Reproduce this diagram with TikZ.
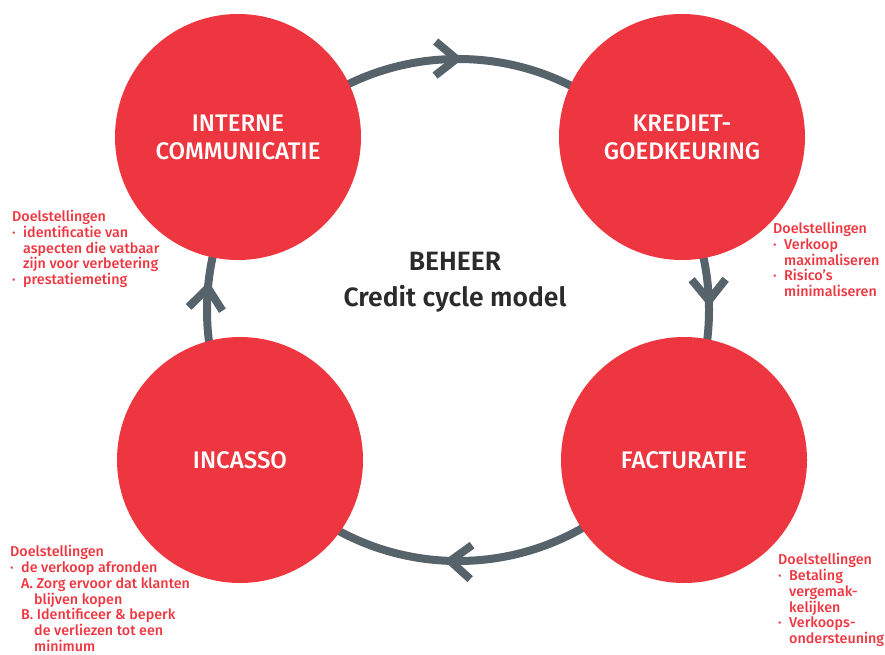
\documentclass[tikz,border=0pt]{standalone}
\usepackage{fontspec}
\setmainfont{Fira Sans}
\newfontfamily\medfont{Fira Sans Medium}
\newfontfamily\semifont{Fira Sans SemiBold}
\usetikzlibrary{arrows.meta,decorations.markings}
\definecolor{cyclered}{HTML}{EE3640}
\definecolor{ringgrey}{HTML}{56636B}
\definecolor{titlegrey}{HTML}{2B2B2B}
\newcommand{\bul}{\makebox[11pt][l]{·}}
\newcommand{\ind}{\hspace*{11pt}}
\newcommand{\sub}{\hspace*{13pt}}
\begin{document}
\begin{tikzpicture}[x=1pt,y=1pt,
	phase/.style={circle,fill=cyclered,minimum size=246pt,inner sep=0pt,text=white,align=center,font=\medfont\fontsize{24}{28}\selectfont},
	goal/.style={anchor=north west,inner sep=0pt,align=left,text=cyclered,font=\medfont\fontsize{14.3}{15.8}\selectfont},
	ring/.style={line width=8pt,draw=ringgrey},
	cyc/.tip={Straight Barb[length=21pt,width=34pt]}]
	\useasboundingbox (0,0) rectangle (885,654);
	\coordinate (hub) at (458,344);
	\draw[ring,postaction={decorate},decoration={markings,
		mark=at position 0.002 with {\arrowreversed{cyc}},
		mark=at position 0.247 with {\arrowreversed{cyc}},
		mark=at position 0.482 with {\arrowreversed{cyc}},
		mark=at position 0.741 with {\arrowreversed{cyc}}}] (hub) circle [radius=251pt];
	\node (ic) at (238,517) [phase] {INTERNE\\COMMUNICATIE};
	\node (kg) at (682,517) [phase] {KREDIET-\\GOEDKEURING};
	\node (fa) at (684,194) [phase] {FACTURATIE};
	\node (inc) at (240,194) [phase] {INCASSO};
	\node (title) at (455,372) [font=\semifont\fontsize{26.5}{36}\selectfont,text=titlegrey,align=center] {BEHEER\\Credit cycle model};
	\node (icgoal) at (12,444) [goal] {Doelstellingen\\
		\bul identificatie van\\
		\ind aspecten die vatbaar\\
		\ind zijn voor verbetering\\
		\bul prestatiemeting};
	\node (kggoal) at (773,432) [goal] {Doelstellingen\\
		\bul Verkoop\\
		\ind maximaliseren\\
		\bul Risico’s\\
		\ind minimaliseren};
	\node (fagoal) at (778,101) [goal] {Doelstellingen\\
		\bul Betaling\\
		\ind vergemak-\\
		\ind kelijken\\
		\bul Verkoops-\\
		\ind ondersteuning};
	\node (incgoal) at (10,109) [goal] {Doelstellingen\\
		\bul de verkoop afronden\\
		\ind A. Zorg ervoor dat klanten\\
		\sub\ind blijven kopen\\
		\ind B. Identificeer \& beperk\\
		\sub\ind de verliezen tot een\\
		\sub\ind minimum};
\end{tikzpicture}
\end{document}
